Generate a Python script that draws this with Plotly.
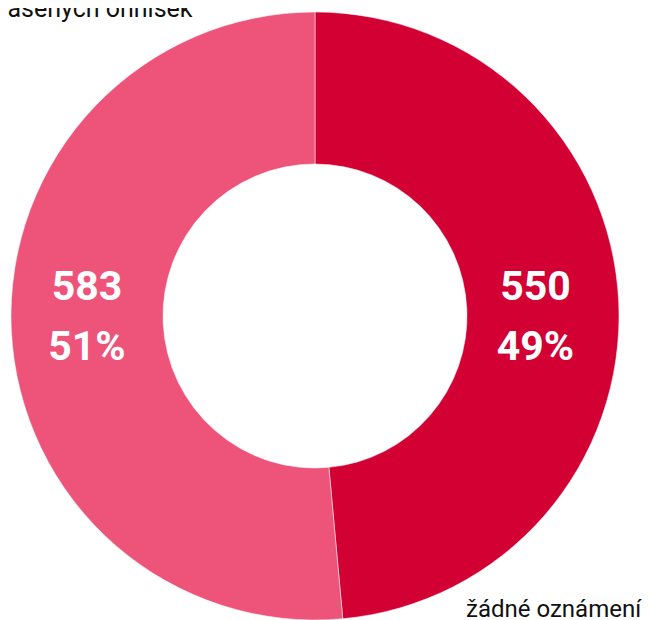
import plotly.graph_objects as go

categories = ["žádné oznámení", "oznámení nahlasenych ohnisek"]
values = [550, 583]
colors = ["#D30033", "#EE5479"]

W, H = 650, 620
L, R, T, B = 3, 39, 4, 8
pw, ph = W - L - R, H - T - B

def px(x):
    return (x - L) / pw

def py(y):
    return (H - B - y) / ph

total = sum(values)
labels_txt = [
    f"<span style='font-size:41px'>{v}</span><br>"
    f"<span style='font-size:41px'>{round(100 * v / total)}%</span>"
    for v in values
]

fig = go.Figure(go.Pie(
    labels=categories,
    values=values,
    hole=0.5,
    sort=False,
    direction="clockwise",
    rotation=0,
    marker=dict(colors=colors, line=dict(color="white", width=0.5)),
    textinfo="none",
    hoverinfo="skip",
    showlegend=False,
))

def label_overlay(texts, dom_x):
    return go.Pie(
        labels=["a", "b"],
        values=[1, 1],
        hole=0.5,
        sort=False,
        direction="clockwise",
        rotation=0,
        domain=dict(x=dom_x, y=[0, 1]),
        marker=dict(colors=["rgba(0,0,0,0)", "rgba(0,0,0,0)"], line=dict(width=0)),
        text=texts,
        textinfo="text",
        textposition="inside",
        insidetextorientation="horizontal",
        textfont=dict(family="Roboto", size=46.5, color="white", weight="bold"),
        hoverinfo="skip",
        showlegend=False,
    )

fig.add_trace(label_overlay([labels_txt[0], ""], [0, 1 - 8.6 / pw]))
fig.add_trace(label_overlay(["", labels_txt[1]], [0, 1]))

fig.add_annotation(text=categories[1], xref="paper", yref="paper",
                   x=px(187), y=py(0.5), xanchor="right", yanchor="middle",
                   showarrow=False, font=dict(family="Roboto", size=25, color="#111111"))
fig.add_annotation(text=categories[0], xref="paper", yref="paper",
                   x=px(456), y=py(600.5), xanchor="left", yanchor="middle",
                   showarrow=False, font=dict(family="Roboto", size=24, color="#111111"))

fig.update_layout(
    width=W, height=H,
    margin=dict(l=L, r=R, t=T, b=B, pad=0),
    paper_bgcolor="white",
    plot_bgcolor="white",
)

fig.write_html("out.html")
